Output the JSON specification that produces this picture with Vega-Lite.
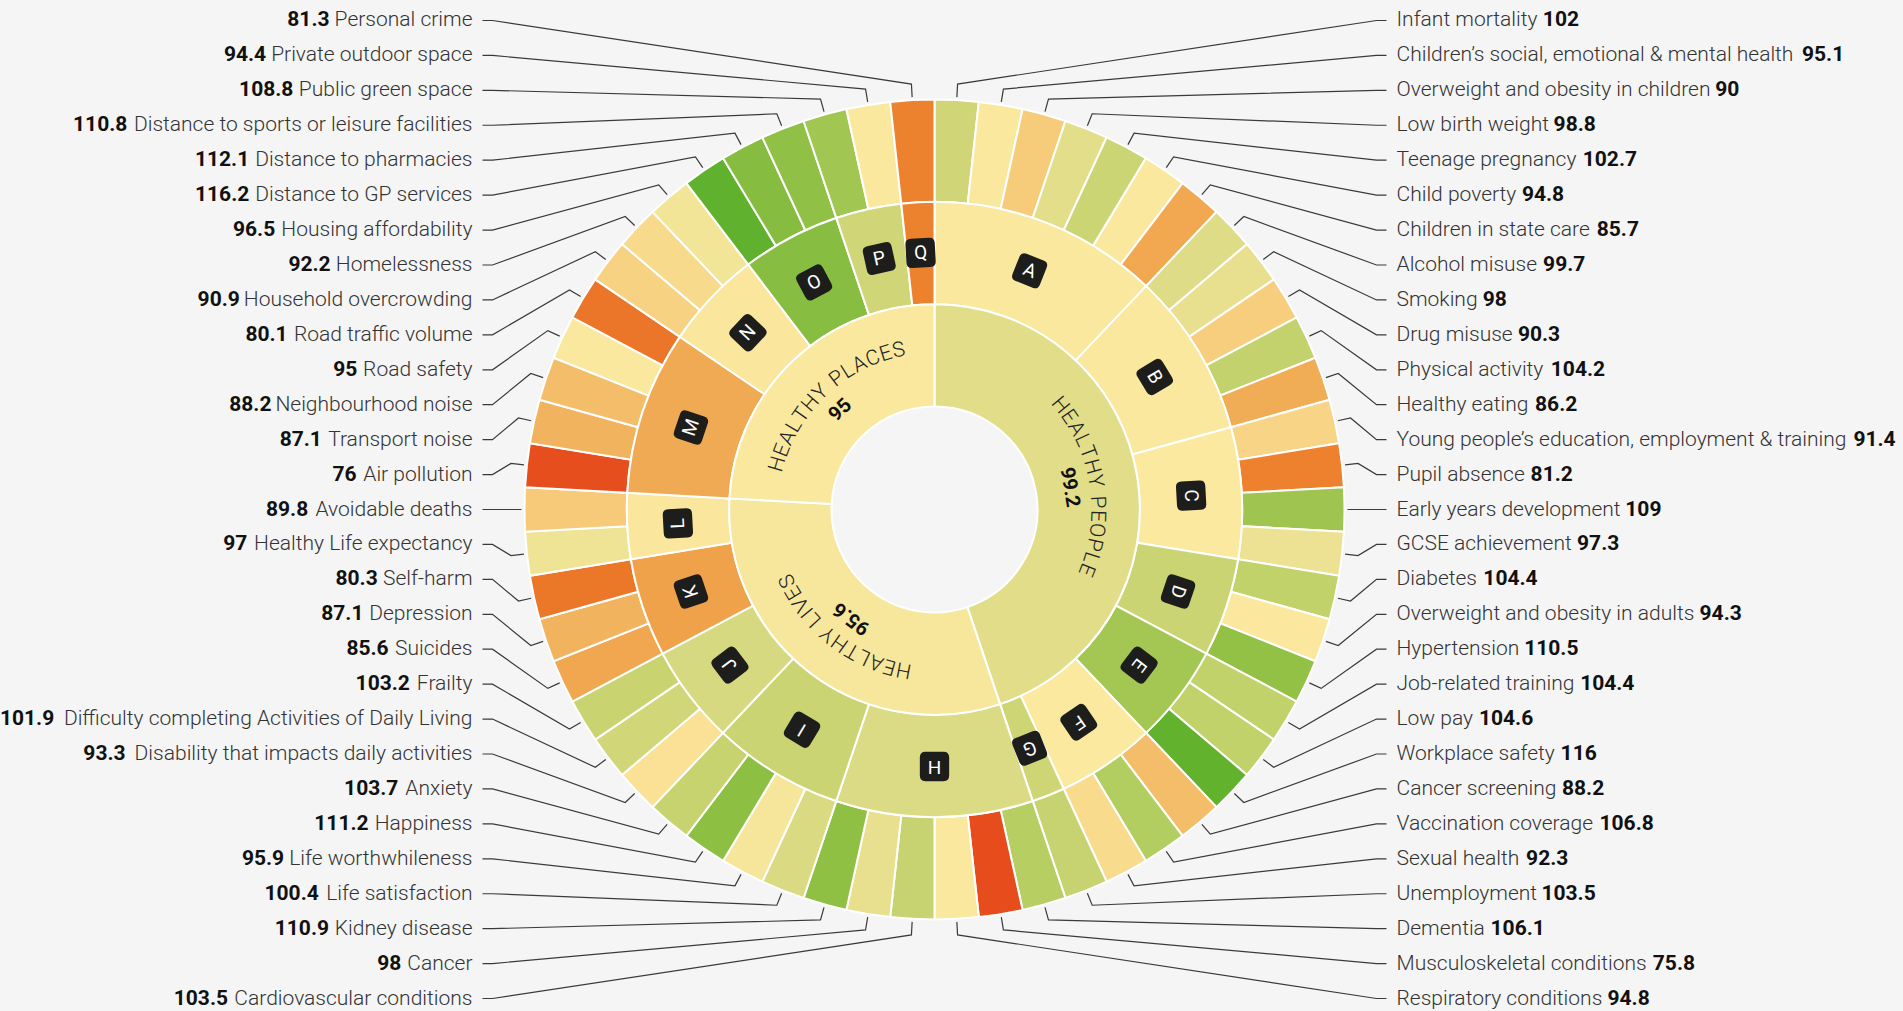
{
  "$schema": "https://vega.github.io/schema/vega-lite/v6.json",
  "width": 1869,
  "height": 1003,
  "autosize": {"type": "none"},
  "padding": {"left": 0, "top": 8, "right": 34, "bottom": 0},
  "background": "#f5f5f5",
  "config": {"view": {"stroke": null}, "font": "Roboto"},
  "datasets": {
    "ind": [
      {"seg": 0, "name": "Infant mortality", "value": 102, "sub": "A", "domain": "HEALTHY PEOPLE"},
      {"seg": 1, "name": "Children’s social, emotional & mental health", "value": 95.1, "sub": "A", "domain": "HEALTHY PEOPLE"},
      {"seg": 2, "name": "Overweight and obesity in children", "value": 90, "sub": "A", "domain": "HEALTHY PEOPLE"},
      {"seg": 3, "name": "Low birth weight", "value": 98.8, "sub": "A", "domain": "HEALTHY PEOPLE"},
      {"seg": 4, "name": "Teenage pregnancy", "value": 102.7, "sub": "A", "domain": "HEALTHY PEOPLE"},
      {"seg": 5, "name": "Child poverty", "value": 94.8, "sub": "A", "domain": "HEALTHY PEOPLE"},
      {"seg": 6, "name": "Children in state care", "value": 85.7, "sub": "A", "domain": "HEALTHY PEOPLE"},
      {"seg": 7, "name": "Alcohol misuse", "value": 99.7, "sub": "B", "domain": "HEALTHY PEOPLE"},
      {"seg": 8, "name": "Smoking", "value": 98, "sub": "B", "domain": "HEALTHY PEOPLE"},
      {"seg": 9, "name": "Drug misuse", "value": 90.3, "sub": "B", "domain": "HEALTHY PEOPLE"},
      {"seg": 10, "name": "Physical activity", "value": 104.2, "sub": "B", "domain": "HEALTHY PEOPLE"},
      {"seg": 11, "name": "Healthy eating", "value": 86.2, "sub": "B", "domain": "HEALTHY PEOPLE"},
      {"seg": 12, "name": "Young people’s education, employment & training", "value": 91.4, "sub": "C", "domain": "HEALTHY PEOPLE"},
      {"seg": 13, "name": "Pupil absence", "value": 81.2, "sub": "C", "domain": "HEALTHY PEOPLE"},
      {"seg": 14, "name": "Early years development", "value": 109, "sub": "C", "domain": "HEALTHY PEOPLE"},
      {"seg": 15, "name": "GCSE achievement", "value": 97.3, "sub": "C", "domain": "HEALTHY PEOPLE"},
      {"seg": 16, "name": "Diabetes", "value": 104.4, "sub": "D", "domain": "HEALTHY PEOPLE"},
      {"seg": 17, "name": "Overweight and obesity in adults", "value": 94.3, "sub": "D", "domain": "HEALTHY PEOPLE"},
      {"seg": 18, "name": "Hypertension", "value": 110.5, "sub": "D", "domain": "HEALTHY PEOPLE"},
      {"seg": 19, "name": "Job-related training", "value": 104.4, "sub": "E", "domain": "HEALTHY PEOPLE"},
      {"seg": 20, "name": "Low pay", "value": 104.6, "sub": "E", "domain": "HEALTHY PEOPLE"},
      {"seg": 21, "name": "Workplace safety", "value": 116, "sub": "E", "domain": "HEALTHY PEOPLE"},
      {"seg": 22, "name": "Cancer screening", "value": 88.2, "sub": "F", "domain": "HEALTHY PEOPLE"},
      {"seg": 23, "name": "Vaccination coverage", "value": 106.8, "sub": "F", "domain": "HEALTHY PEOPLE"},
      {"seg": 24, "name": "Sexual health", "value": 92.3, "sub": "F", "domain": "HEALTHY PEOPLE"},
      {"seg": 25, "name": "Unemployment", "value": 103.5, "sub": "G", "domain": "HEALTHY PEOPLE"},
      {"seg": 26, "name": "Dementia", "value": 106.1, "sub": "H", "domain": "HEALTHY LIVES"},
      {"seg": 27, "name": "Musculoskeletal conditions", "value": 75.8, "sub": "H", "domain": "HEALTHY LIVES"},
      {"seg": 28, "name": "Respiratory conditions", "value": 94.8, "sub": "H", "domain": "HEALTHY LIVES"},
      {"seg": 29, "name": "Cardiovascular conditions", "value": 103.5, "sub": "H", "domain": "HEALTHY LIVES"},
      {"seg": 30, "name": "Cancer", "value": 98, "sub": "H", "domain": "HEALTHY LIVES"},
      {"seg": 31, "name": "Kidney disease", "value": 110.9, "sub": "H", "domain": "HEALTHY LIVES"},
      {"seg": 32, "name": "Life satisfaction", "value": 100.4, "sub": "I", "domain": "HEALTHY LIVES"},
      {"seg": 33, "name": "Life worthwhileness", "value": 95.9, "sub": "I", "domain": "HEALTHY LIVES"},
      {"seg": 34, "name": "Happiness", "value": 111.2, "sub": "I", "domain": "HEALTHY LIVES"},
      {"seg": 35, "name": "Anxiety", "value": 103.7, "sub": "I", "domain": "HEALTHY LIVES"},
      {"seg": 36, "name": "Disability that impacts daily activities", "value": 93.3, "sub": "J", "domain": "HEALTHY LIVES"},
      {"seg": 37, "name": "Difficulty completing Activities of Daily Living", "value": 101.9, "sub": "J", "domain": "HEALTHY LIVES"},
      {"seg": 38, "name": "Frailty", "value": 103.2, "sub": "J", "domain": "HEALTHY LIVES"},
      {"seg": 39, "name": "Suicides", "value": 85.6, "sub": "K", "domain": "HEALTHY LIVES"},
      {"seg": 40, "name": "Depression", "value": 87.1, "sub": "K", "domain": "HEALTHY LIVES"},
      {"seg": 41, "name": "Self-harm", "value": 80.3, "sub": "K", "domain": "HEALTHY LIVES"},
      {"seg": 42, "name": "Healthy Life expectancy", "value": 97, "sub": "L", "domain": "HEALTHY LIVES"},
      {"seg": 43, "name": "Avoidable deaths", "value": 89.8, "sub": "L", "domain": "HEALTHY LIVES"},
      {"seg": 44, "name": "Air pollution", "value": 76, "sub": "M", "domain": "HEALTHY PLACES"},
      {"seg": 45, "name": "Transport noise", "value": 87.1, "sub": "M", "domain": "HEALTHY PLACES"},
      {"seg": 46, "name": "Neighbourhood noise", "value": 88.2, "sub": "M", "domain": "HEALTHY PLACES"},
      {"seg": 47, "name": "Road safety", "value": 95, "sub": "M", "domain": "HEALTHY PLACES"},
      {"seg": 48, "name": "Road traffic volume", "value": 80.1, "sub": "M", "domain": "HEALTHY PLACES"},
      {"seg": 49, "name": "Household overcrowding", "value": 90.9, "sub": "N", "domain": "HEALTHY PLACES"},
      {"seg": 50, "name": "Homelessness", "value": 92.2, "sub": "N", "domain": "HEALTHY PLACES"},
      {"seg": 51, "name": "Housing affordability", "value": 96.5, "sub": "N", "domain": "HEALTHY PLACES"},
      {"seg": 52, "name": "Distance to GP services", "value": 116.2, "sub": "O", "domain": "HEALTHY PLACES"},
      {"seg": 53, "name": "Distance to pharmacies", "value": 112.1, "sub": "O", "domain": "HEALTHY PLACES"},
      {"seg": 54, "name": "Distance to sports or leisure facilities", "value": 110.8, "sub": "O", "domain": "HEALTHY PLACES"},
      {"seg": 55, "name": "Public green space", "value": 108.8, "sub": "P", "domain": "HEALTHY PLACES"},
      {"seg": 56, "name": "Private outdoor space", "value": 94.4, "sub": "P", "domain": "HEALTHY PLACES"},
      {"seg": 57, "name": "Personal crime", "value": 81.3, "sub": "Q", "domain": "HEALTHY PLACES"}
    ],
    "subs": [
      {"sub": "A", "score": 95}, {"sub": "B", "score": 95}, {"sub": "C", "score": 94.5},
      {"sub": "D", "score": 103}, {"sub": "E", "score": 108.5}, {"sub": "F", "score": 94.5},
      {"sub": "G", "score": 102.5}, {"sub": "H", "score": 100}, {"sub": "I", "score": 103},
      {"sub": "J", "score": 101}, {"sub": "K", "score": 85}, {"sub": "L", "score": 94},
      {"sub": "M", "score": 86}, {"sub": "N", "score": 94}, {"sub": "O", "score": 112},
      {"sub": "P", "score": 102}, {"sub": "Q", "score": 81.3}
    ],
    "doms": [
      {"domain": "HEALTHY PEOPLE", "score": 99.2},
      {"domain": "HEALTHY LIVES", "score": 95.6},
      {"domain": "HEALTHY PLACES", "score": 95}
    ]
  },
  "layer": [
    {
      "data": {"name": "ind"},
      "transform": [
        {"calculate": "datum.seg + 1", "as": "e"},
        {"calculate": "3", "as": "ro"},
        {"calculate": "2", "as": "ri"}
      ],
      "mark": {"type": "arc", "stroke": "#ffffff", "strokeWidth": 2},
      "encoding": {
        "theta": {"field": "seg", "type": "quantitative", "stack": null, "scale": {"domain": [0, 58], "range": [0, 6.283185307179586]}},
        "theta2": {"field": "e"},
        "radius": {"field": "ro", "type": "quantitative", "scale": {"type": "linear", "domain": [0, 3], "range": [103, 410], "zero": false, "nice": false}},
        "radius2": {"field": "ri"},
        "color": {"field": "value", "type": "quantitative", "legend": null,
          "scale": {"domain": [75, 80, 82, 86, 90, 94.5, 96, 98, 100, 103, 105, 107, 110, 113, 116],
                    "range": ["#e5441a", "#eb7428", "#ee8a31", "#f1aa54", "#f6cc7a", "#fbe9a0", "#f5e69b", "#e8e08e", "#dcdb85", "#cad472", "#bfd168", "#b1cc5f", "#96c248", "#7fbb3c", "#62b22e"],
                    "interpolate": "rgb"}}
      }
    },
    {
      "data": {"name": "ind"},
      "transform": [
        {"aggregate": [{"op": "min", "field": "seg", "as": "s0"}, {"op": "max", "field": "seg", "as": "s1"}], "groupby": ["sub"]},
        {"calculate": "datum.s1 + 1", "as": "e"},
        {"lookup": "sub", "from": {"data": {"name": "subs"}, "key": "sub", "fields": ["score"]}},
        {"calculate": "2", "as": "ro"},
        {"calculate": "1", "as": "ri"}
      ],
      "mark": {"type": "arc", "stroke": "#ffffff", "strokeWidth": 2},
      "encoding": {
        "theta": {"field": "s0", "type": "quantitative", "stack": null, "scale": {"domain": [0, 58], "range": [0, 6.283185307179586]}},
        "theta2": {"field": "e"},
        "radius": {"field": "ro", "type": "quantitative", "scale": {"type": "linear", "domain": [0, 3], "range": [103, 410], "zero": false, "nice": false}},
        "radius2": {"field": "ri"},
        "color": {"field": "score", "type": "quantitative", "legend": null,
          "scale": {"domain": [75, 80, 82, 86, 90, 94.5, 96, 98, 100, 103, 105, 107, 110, 113, 116],
                    "range": ["#e5441a", "#eb7428", "#ee8a31", "#f1aa54", "#f6cc7a", "#fbe9a0", "#f5e69b", "#e8e08e", "#dcdb85", "#cad472", "#bfd168", "#b1cc5f", "#96c248", "#7fbb3c", "#62b22e"],
                    "interpolate": "rgb"}}
      }
    },
    {
      "data": {"name": "ind"},
      "transform": [
        {"aggregate": [{"op": "min", "field": "seg", "as": "s0"}, {"op": "max", "field": "seg", "as": "s1"}], "groupby": ["domain"]},
        {"calculate": "datum.s1 + 1", "as": "e"},
        {"lookup": "domain", "from": {"data": {"name": "doms"}, "key": "domain", "fields": ["score"]}},
        {"calculate": "1", "as": "ro"},
        {"calculate": "0", "as": "ri"}
      ],
      "mark": {"type": "arc", "stroke": "#ffffff", "strokeWidth": 2},
      "encoding": {
        "theta": {"field": "s0", "type": "quantitative", "stack": null, "scale": {"domain": [0, 58], "range": [0, 6.283185307179586]}},
        "theta2": {"field": "e"},
        "radius": {"field": "ro", "type": "quantitative", "scale": {"type": "linear", "domain": [0, 3], "range": [103, 410], "zero": false, "nice": false}},
        "radius2": {"field": "ri"},
        "color": {"field": "score", "type": "quantitative", "legend": null,
          "scale": {"domain": [75, 80, 82, 86, 90, 94.5, 96, 98, 100, 103, 105, 107, 110, 113, 116],
                    "range": ["#e5441a", "#eb7428", "#ee8a31", "#f1aa54", "#f6cc7a", "#fbe9a0", "#f5e69b", "#e8e08e", "#dcdb85", "#cad472", "#bfd168", "#b1cc5f", "#96c248", "#7fbb3c", "#62b22e"],
                    "interpolate": "rgb"}}
      }
    },
    {
      "data": {"name": "ind"},
      "transform": [
        {"aggregate": [{"op": "min", "field": "seg", "as": "s0"}, {"op": "max", "field": "seg", "as": "s1"}], "groupby": ["sub"]},
        {"calculate": "(datum.s0 + datum.s1 + 1) / 2", "as": "mid"},
        {"calculate": "datum.mid * 2 * PI / 58", "as": "a"},
        {"calculate": "257 * sin(datum.a)", "as": "bx"},
        {"calculate": "257 * cos(datum.a)", "as": "by"},
        {"calculate": "datum.mid * 360 / 58", "as": "rot"}
      ],
      "mark": {"type": "point", "shape": "M -0.62 -1 L 0.62 -1 Q 1 -1 1 -0.62 L 1 0.62 Q 1 1 0.62 1 L -0.62 1 Q -1 1 -1 0.62 L -1 -0.62 Q -1 -1 -0.62 -1 Z", "filled": true, "fill": "#1d1d1b", "opacity": 1, "size": 860, "strokeWidth": 0},
      "encoding": {
        "x": {"field": "bx", "type": "quantitative", "axis": null, "scale": {"domain": [-934.5, 934.5], "nice": false, "zero": false}},
        "y": {"field": "by", "type": "quantitative", "axis": null, "scale": {"domain": [-501.5, 501.5], "nice": false, "zero": false}},
        "angle": {"field": "rot", "type": "quantitative", "scale": null}
      }
    },
    {
      "data": {"name": "ind"},
      "transform": [
        {"aggregate": [{"op": "min", "field": "seg", "as": "s0"}, {"op": "max", "field": "seg", "as": "s1"}], "groupby": ["sub"]},
        {"calculate": "(datum.s0 + datum.s1 + 1) / 2", "as": "mid"},
        {"calculate": "datum.mid * 2 * PI / 58", "as": "a"},
        {"calculate": "257 * sin(datum.a)", "as": "bx"},
        {"calculate": "257 * cos(datum.a)", "as": "by"},
        {"calculate": "datum.mid * 360 / 58", "as": "rot"}
      ],
      "mark": {"type": "text", "fill": "#ffffff", "fontSize": 19, "fontWeight": 400, "align": "center", "baseline": "middle", "font": "Roboto"},
      "encoding": {
        "x": {"field": "bx", "type": "quantitative", "axis": null, "scale": {"domain": [-934.5, 934.5], "nice": false, "zero": false}},
        "y": {"field": "by", "type": "quantitative", "axis": null, "scale": {"domain": [-501.5, 501.5], "nice": false, "zero": false}},
        "angle": {"field": "rot", "type": "quantitative", "scale": null},
        "text": {"field": "sub", "type": "nominal"}
      }
    },
    {
      "data": {"name": "ind"},
      "transform": [
        {"aggregate": [{"op": "min", "field": "seg", "as": "s0"}, {"op": "max", "field": "seg", "as": "s1"}], "groupby": ["domain"]},
        {"calculate": "(datum.s0 + datum.s1 + 1) / 2 * 360 / 58", "as": "middeg"},
        {"calculate": "split(datum.domain, '')", "as": "ch"},
        {"flatten": ["ch"]},
        {"window": [{"op": "row_number", "as": "ci"}], "groupby": ["domain"]},
        {"calculate": "[0.71, 0.57, 0.65, 0.54, 0.61, 0.6, 0.63, 0.69, 0.65, 0.27, 0.63, 0.6, 0.3][indexof('HEALTYPOCIVS ', datum.ch)] * 21 + 1", "as": "cw"},
        {"window": [{"op": "sum", "field": "cw", "as": "cum"}], "groupby": ["domain"], "sort": [{"field": "ci", "order": "ascending"}], "frame": [null, 0]},
        {"joinaggregate": [{"op": "sum", "field": "cw", "as": "tot"}], "groupby": ["domain"]},
        {"calculate": "datum.middeg + (datum.cum - datum.cw / 2 - datum.tot / 2) / 163 * 180 / PI", "as": "rot"},
        {"calculate": "163 * sin(datum.rot * PI / 180)", "as": "tx"},
        {"calculate": "163 * cos(datum.rot * PI / 180)", "as": "ty"}
      ],
      "mark": {"type": "text", "fill": "#222222", "fontSize": 21, "fontWeight": 300, "align": "center", "baseline": "middle", "font": "Roboto"},
      "encoding": {
        "x": {"field": "tx", "type": "quantitative", "axis": null, "scale": {"domain": [-934.5, 934.5], "nice": false, "zero": false}},
        "y": {"field": "ty", "type": "quantitative", "axis": null, "scale": {"domain": [-501.5, 501.5], "nice": false, "zero": false}},
        "angle": {"field": "rot", "type": "quantitative", "scale": null},
        "text": {"field": "ch", "type": "nominal"}
      }
    },
    {
      "data": {"name": "ind"},
      "transform": [
        {"aggregate": [{"op": "min", "field": "seg", "as": "s0"}, {"op": "max", "field": "seg", "as": "s1"}], "groupby": ["domain"]},
        {"lookup": "domain", "from": {"data": {"name": "doms"}, "key": "domain", "fields": ["score"]}},
        {"calculate": "(datum.s0 + datum.s1 + 1) / 2", "as": "mid"},
        {"calculate": "datum.mid * 2 * PI / 58", "as": "a"},
        {"calculate": "137 * sin(datum.a)", "as": "tx"},
        {"calculate": "137 * cos(datum.a)", "as": "ty"},
        {"calculate": "datum.mid * 360 / 58", "as": "rot"}
      ],
      "mark": {"type": "text", "fill": "#111111", "fontSize": 20, "fontWeight": 700, "align": "center", "baseline": "middle", "font": "Roboto"},
      "encoding": {
        "x": {"field": "tx", "type": "quantitative", "axis": null, "scale": {"domain": [-934.5, 934.5], "nice": false, "zero": false}},
        "y": {"field": "ty", "type": "quantitative", "axis": null, "scale": {"domain": [-501.5, 501.5], "nice": false, "zero": false}},
        "angle": {"field": "rot", "type": "quantitative", "scale": null},
        "text": {"field": "score", "type": "nominal"}
      }
    },
    {
      "data": {"name": "ind"},
      "transform": [
        {"calculate": "datum.seg < 29 ? 1 : -1", "as": "side"},
        {"calculate": "datum.seg < 29 ? datum.seg : 57 - datum.seg", "as": "row"},
        {"calculate": "(datum.seg + 0.5) * 2 * PI / 58", "as": "a"},
        {"calculate": "[0, 1, 2, 3]", "as": "k"},
        {"flatten": ["k"]},
        {"calculate": "datum.k == 0 ? 413 * sin(datum.a) : datum.k == 1 ? 426 * sin(datum.a) : datum.k == 2 ? datum.side * 442 : datum.side * 452", "as": "px"},
        {"calculate": "datum.k == 0 ? 413 * cos(datum.a) : datum.k == 1 ? 426 * cos(datum.a) : (14 - datum.row) * 34.93", "as": "py"}
      ],
      "mark": {"type": "line", "stroke": "#3a3a3a", "strokeWidth": 1.2, "interpolate": "linear"},
      "encoding": {
        "x": {"field": "px", "type": "quantitative", "axis": null, "scale": {"domain": [-934.5, 934.5], "nice": false, "zero": false}},
        "y": {"field": "py", "type": "quantitative", "axis": null, "scale": {"domain": [-501.5, 501.5], "nice": false, "zero": false}},
        "detail": {"field": "seg", "type": "nominal"},
        "order": {"field": "k", "type": "quantitative"}
      }
    },
    {
      "data": {"name": "ind"},
      "transform": [
        {"filter": "datum.seg < 29"},
        {"calculate": "462", "as": "lx"},
        {"calculate": "(14 - datum.seg) * 34.93", "as": "ly"}
      ],
      "mark": {"type": "text", "align": "left", "baseline": "middle", "fontSize": 21, "fontWeight": 300, "fill": "#333333", "font": "Roboto"},
      "encoding": {
        "x": {"field": "lx", "type": "quantitative", "axis": null, "scale": {"domain": [-934.5, 934.5], "nice": false, "zero": false}},
        "y": {"field": "ly", "type": "quantitative", "axis": null, "scale": {"domain": [-501.5, 501.5], "nice": false, "zero": false}},
        "text": {"field": "name", "type": "nominal"}
      }
    },
    {
      "data": {"name": "ind"},
      "transform": [
        {"filter": "datum.seg >= 29"},
        {"calculate": "-462", "as": "lx"},
        {"calculate": "(14 - (57 - datum.seg)) * 34.93", "as": "ly"}
      ],
      "mark": {"type": "text", "align": "right", "baseline": "middle", "fontSize": 21, "fontWeight": 300, "fill": "#333333", "font": "Roboto"},
      "encoding": {
        "x": {"field": "lx", "type": "quantitative", "axis": null, "scale": {"domain": [-934.5, 934.5], "nice": false, "zero": false}},
        "y": {"field": "ly", "type": "quantitative", "axis": null, "scale": {"domain": [-501.5, 501.5], "nice": false, "zero": false}},
        "text": {"field": "name", "type": "nominal"}
      }
    },
    {
      "data": {"name": "ind"},
      "transform": [
        {"filter": "datum.seg < 29"},
        {"calculate": "length(replace(datum.name, regexp(\"[^ijl]\", \"g\"), \"\"))", "as": "g1"},
        {"calculate": "length(replace(datum.name, regexp(\"[^,’']\", \"g\"), \"\"))", "as": "g2"},
        {"calculate": "length(replace(datum.name, regexp(\"[^.I-]\", \"g\"), \"\"))", "as": "g3"},
        {"calculate": "length(replace(datum.name, regexp(\"[^ ]\", \"g\"), \"\"))", "as": "g4"},
        {"calculate": "length(replace(datum.name, regexp(\"[^ftr]\", \"g\"), \"\"))", "as": "g5"},
        {"calculate": "length(replace(datum.name, regexp(\"[^kvxyz]\", \"g\"), \"\"))", "as": "g7"},
        {"calculate": "length(replace(datum.name, regexp(\"[^ces]\", \"g\"), \"\"))", "as": "g8"},
        {"calculate": "length(replace(datum.name, regexp(\"[^m]\", \"g\"), \"\"))", "as": "g9"},
        {"calculate": "length(replace(datum.name, regexp(\"[^w]\", \"g\"), \"\"))", "as": "g10"},
        {"calculate": "length(replace(datum.name, regexp(\"[^BKPRSTVY&]\", \"g\"), \"\"))", "as": "g12"},
        {"calculate": "length(replace(datum.name, regexp(\"[^ACDGOU]\", \"g\"), \"\"))", "as": "g13"},
        {"calculate": "length(replace(datum.name, regexp(\"[^HN]\", \"g\"), \"\"))", "as": "g14"},
        {"calculate": "length(replace(datum.name, regexp(\"[^MW]\", \"g\"), \"\"))", "as": "g15"},
        {"calculate": "21 * (0.545 * length(datum.name) - 0.31 * datum.g1 - 0.345 * datum.g2 - 0.277 * datum.g3 - 0.298 * datum.g4 - 0.217 * datum.g5 - 0.066 * datum.g7 - 0.034 * datum.g8 + 0.309 * datum.g9 + 0.188 * datum.g10 + 0.07 * datum.g12 + 0.12 * datum.g13 + 0.168 * datum.g14 + 0.335 * datum.g15)", "as": "w"},
        {"calculate": "462 + datum.w + 6", "as": "vx"},
        {"calculate": "(14 - datum.seg) * 34.93", "as": "ly"}
      ],
      "mark": {"type": "text", "align": "left", "baseline": "middle", "fontSize": 21, "fontWeight": 700, "fill": "#111111", "font": "Roboto"},
      "encoding": {
        "x": {"field": "vx", "type": "quantitative", "axis": null, "scale": {"domain": [-934.5, 934.5], "nice": false, "zero": false}},
        "y": {"field": "ly", "type": "quantitative", "axis": null, "scale": {"domain": [-501.5, 501.5], "nice": false, "zero": false}},
        "text": {"field": "value", "type": "nominal"}
      }
    },
    {
      "data": {"name": "ind"},
      "transform": [
        {"filter": "datum.seg >= 29"},
        {"calculate": "length(replace(datum.name, regexp(\"[^ijl]\", \"g\"), \"\"))", "as": "g1"},
        {"calculate": "length(replace(datum.name, regexp(\"[^,’']\", \"g\"), \"\"))", "as": "g2"},
        {"calculate": "length(replace(datum.name, regexp(\"[^.I-]\", \"g\"), \"\"))", "as": "g3"},
        {"calculate": "length(replace(datum.name, regexp(\"[^ ]\", \"g\"), \"\"))", "as": "g4"},
        {"calculate": "length(replace(datum.name, regexp(\"[^ftr]\", \"g\"), \"\"))", "as": "g5"},
        {"calculate": "length(replace(datum.name, regexp(\"[^kvxyz]\", \"g\"), \"\"))", "as": "g7"},
        {"calculate": "length(replace(datum.name, regexp(\"[^ces]\", \"g\"), \"\"))", "as": "g8"},
        {"calculate": "length(replace(datum.name, regexp(\"[^m]\", \"g\"), \"\"))", "as": "g9"},
        {"calculate": "length(replace(datum.name, regexp(\"[^w]\", \"g\"), \"\"))", "as": "g10"},
        {"calculate": "length(replace(datum.name, regexp(\"[^BKPRSTVY&]\", \"g\"), \"\"))", "as": "g12"},
        {"calculate": "length(replace(datum.name, regexp(\"[^ACDGOU]\", \"g\"), \"\"))", "as": "g13"},
        {"calculate": "length(replace(datum.name, regexp(\"[^HN]\", \"g\"), \"\"))", "as": "g14"},
        {"calculate": "length(replace(datum.name, regexp(\"[^MW]\", \"g\"), \"\"))", "as": "g15"},
        {"calculate": "21 * (0.545 * length(datum.name) - 0.31 * datum.g1 - 0.345 * datum.g2 - 0.277 * datum.g3 - 0.298 * datum.g4 - 0.217 * datum.g5 - 0.066 * datum.g7 - 0.034 * datum.g8 + 0.309 * datum.g9 + 0.188 * datum.g10 + 0.07 * datum.g12 + 0.12 * datum.g13 + 0.168 * datum.g14 + 0.335 * datum.g15)", "as": "w"},
        {"calculate": "-(462 + datum.w + 6)", "as": "vx"},
        {"calculate": "(14 - (57 - datum.seg)) * 34.93", "as": "ly"}
      ],
      "mark": {"type": "text", "align": "right", "baseline": "middle", "fontSize": 21, "fontWeight": 700, "fill": "#111111", "font": "Roboto"},
      "encoding": {
        "x": {"field": "vx", "type": "quantitative", "axis": null, "scale": {"domain": [-934.5, 934.5], "nice": false, "zero": false}},
        "y": {"field": "ly", "type": "quantitative", "axis": null, "scale": {"domain": [-501.5, 501.5], "nice": false, "zero": false}},
        "text": {"field": "value", "type": "nominal"}
      }
    }
  ]
}
